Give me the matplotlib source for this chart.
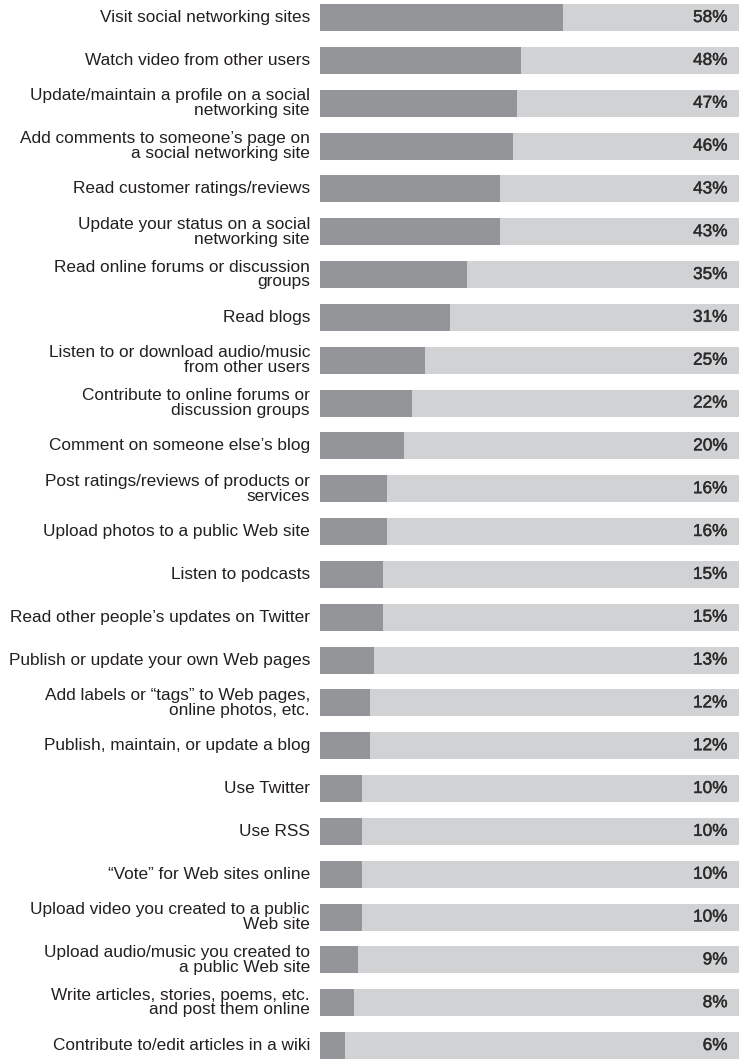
import matplotlib.pyplot as plt
import matplotlib.patheffects as pe
import numpy as np

plt.rcParams['font.family'] = ['Liberation Sans', 'DejaVu Sans']

activities = [
    "Visit social networking sites",
    "Watch video from other users",
    "Update/maintain a profile on a social\nnetworking site",
    "Add comments to someone\u2019s page on\na social networking site",
    "Read customer ratings/reviews",
    "Update your status on a social\nnetworking site",
    "Read online forums or discussion\ngroups",
    "Read blogs",
    "Listen to or download audio/music\nfrom other users",
    "Contribute to online forums or\ndiscussion groups",
    "Comment on someone else\u2019s blog",
    "Post ratings/reviews of products or\nservices",
    "Upload photos to a public Web site",
    "Listen to podcasts",
    "Read other people\u2019s updates on Twitter",
    "Publish or update your own Web pages",
    "Add labels or \u201ctags\u201d to Web pages,\nonline photos, etc.",
    "Publish, maintain, or update a blog",
    "Use Twitter",
    "Use RSS",
    "\u201cVote\u201d for Web sites online",
    "Upload video you created to a public\nWeb site",
    "Upload audio/music you created to\na public Web site",
    "Write articles, stories, poems, etc.\nand post them online",
    "Contribute to/edit articles in a wiki",
]
percents = [58, 48, 47, 46, 43, 43, 35, 31, 25, 22, 20, 16, 16, 15, 15,
            13, 12, 12, 10, 10, 10, 10, 9, 8, 6]

dark = '#939598'
light = '#d1d2d4'
txt = '#231f20'

fig = plt.figure(figsize=(7.39, 10.59), dpi=100)
ax = fig.add_axes([320 / 739, 0, 419 / 739, 1])

y = np.arange(len(activities))
h = 0.63
ax.barh(y, [100] * len(y), height=h, color=light)
ax.barh(y, percents, height=h, color=dark)

# regular weight plus a thin outline -> roughly "medium" weight
medium = [pe.withStroke(linewidth=0.3, foreground='#2b2b2b')]
for yi, label, p in zip(y, activities, percents):
    ax.text(-2.4, yi, label, ha='right', va='center', multialignment='right',
            fontsize=12.45, color=txt, linespacing=0.97)
    ax.text(97.3, yi, f"{p}%", ha='right', va='center',
            fontsize=12.4, color='#2b2b2b', path_effects=medium)

ax.set_xlim(0, 100)
ax.set_ylim(24 + h / 2, -0.409)
ax.axis('off')

fig.savefig('out.png', dpi=100)
